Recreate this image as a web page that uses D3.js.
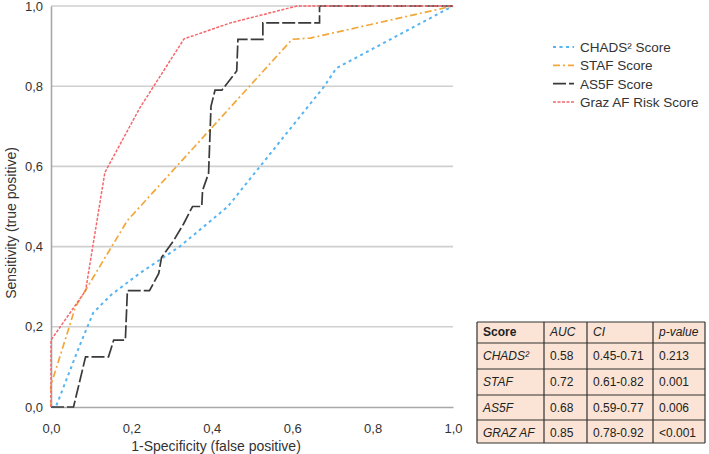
<!DOCTYPE html>
<html>
<head>
<meta charset="utf-8">
<script src="https://cdn.jsdelivr.net/npm/d3@7/dist/d3.min.js"></script>
<style>
  html, body { margin: 0; padding: 0; background: #ffffff; }
  svg { display: block; font-family: "Liberation Sans", Arial, sans-serif; }
</style>
</head>
<body>
<svg id="chart" width="709" height="454"></svg>
<script>
// ---- data ----
const seriesNames = ["CHADS² Score", "STAF Score", "AS5F Score", "Graz AF Risk Score"];
const chadsPoints = [[0,0],[0.012,0],[0.07,0.15],[0.105,0.235],[0.15,0.28],[0.22,0.333],[0.32,0.4],[0.44,0.5],[0.52,0.6],[0.68,0.8],[0.71,0.845],[1,1]];
const stafPoints = [[0,0],[0,0.055],[0.061,0.25],[0.19,0.465],[0.6,0.917],[0.645,0.92],[1,1]];
const as5fPoints = [[0,0],[0.056,0],[0.068,0.05],[0.086,0.125],[0.143,0.125],[0.156,0.167],[0.185,0.167],[0.19,0.29],[0.245,0.29],[0.268,0.333],[0.275,0.373],[0.305,0.415],[0.33,0.457],[0.352,0.5],[0.375,0.5],[0.377,0.54],[0.392,0.583],[0.398,0.75],[0.408,0.79],[0.425,0.79],[0.462,0.838],[0.465,0.917],[0.527,0.917],[0.527,0.958],[0.668,0.958],[0.668,1],[1,1]];
const grazPoints = [[0,0],[0,0.167],[0.086,0.29],[0.134,0.585],[0.221,0.746],[0.331,0.918],[0.447,0.958],[0.612,1],[1,1]];
const tickValues = [0, 0.2, 0.4, 0.6, 0.8, 1.0];
const xTitle = "1-Specificity (false positive)";
const yTitle = "Sensitivity (true positive)";
const tableHeader = ["Score", "AUC", "CI", "p-value"];
const tableScores = ["CHADS²", "STAF", "AS5F", "GRAZ AF"];
const tableAUC = ["0.58", "0.72", "0.68", "0.85"];
const tableCI = ["0.45-0.71", "0.61-0.82", "0.59-0.77", "0.78-0.92"];
const tableP = ["0.213", "0.001", "0.006", "<0.001"];

// ---- styles ----
const styles = [
  { color: "#55b4f2", dash: "3,3.5", width: 2 },
  { color: "#f2a73a", dash: "7,3,2,3", width: 1.7 },
  { color: "#3a3a3a", dash: "13,3", width: 1.7 },
  { color: "#f4676b", dash: "3,1.5", width: 1.5 }
];
const allSeries = [chadsPoints, stafPoints, as5fPoints, grazPoints];

const svg = d3.select("#chart");
const x = d3.scaleLinear().domain([0, 1]).range([51, 453]);
const y = d3.scaleLinear().domain([0, 1]).range([407, 6]);
const fmt = d => d3.format(".1f")(d).replace(".", ",");

// gridlines
svg.append("g").selectAll("line").data(tickValues.filter(d => d > 0)).join("line")
  .attr("x1", x(0)).attr("x2", x(1))
  .attr("y1", d => y(d)).attr("y2", d => y(d))
  .attr("stroke", "#cfcfcf").attr("stroke-width", 1.6);

// axes
const xAxis = svg.append("g").attr("transform", `translate(0,${y(0)})`)
  .call(d3.axisBottom(x).tickValues(tickValues).tickFormat(fmt).tickSize(0).tickPadding(17));
const yAxis = svg.append("g").attr("transform", `translate(${x(0)},0)`)
  .call(d3.axisLeft(y).tickValues(tickValues).tickFormat(fmt).tickSize(0).tickPadding(8));
[xAxis, yAxis].forEach(a => {
  a.select(".domain").attr("stroke", "#a8a8a8").attr("stroke-width", 1.6);
  a.selectAll("text").attr("font-size", 13).attr("fill", "#333").attr("font-family", "Liberation Sans, Arial, sans-serif");
});

// titles
svg.append("text").attr("x", 216).attr("y", 451).attr("text-anchor", "middle")
  .attr("font-size", 14).attr("fill", "#333").text(xTitle);
svg.append("text").attr("transform", "translate(16,223) rotate(-90)").attr("text-anchor", "middle")
  .attr("font-size", 14).attr("fill", "#333").text(yTitle);

// curves
const line = d3.line().x(d => x(d[0])).y(d => y(d[1]));
allSeries.forEach((pts, i) => {
  svg.append("path").datum(pts).attr("d", line).attr("fill", "none")
    .attr("stroke", styles[i].color).attr("stroke-width", styles[i].width)
    .attr("stroke-dasharray", styles[i].dash);
});

// legend
const leg = svg.append("g");
seriesNames.forEach((name, i) => {
  const ly = 47 + i * 18.3;
  leg.append("line").attr("x1", 553).attr("x2", 574).attr("y1", ly).attr("y2", ly)
    .attr("stroke", styles[i].color).attr("stroke-width", styles[i].width)
    .attr("stroke-dasharray", styles[i].dash);
  leg.append("text").attr("x", 580).attr("y", ly + 5).attr("font-size", 13.5)
    .attr("fill", "#333").text(name);
});

// table
const colX = [477, 544, 587, 653, 705];
const rowY = [322, 343, 369, 395, 420, 443];
const tg = svg.append("g");
tg.append("rect").attr("x", colX[0]).attr("y", rowY[0])
  .attr("width", colX[4] - colX[0]).attr("height", rowY[5] - rowY[0])
  .attr("fill", "#fbe4d5");
const rows = [tableHeader].concat(tableScores.map((s, i) => [s, tableAUC[i], tableCI[i], tableP[i]]));
rows.forEach((r, ri) => {
  r.forEach((cell, ci) => {
    const t = tg.append("text").attr("x", colX[ci] + 6).attr("y", rowY[ri] + (ri === 0 ? 14 : 17))
      .attr("font-size", 12).attr("fill", "#222").text(cell);
    if (ri === 0 && ci === 0) t.attr("font-weight", "bold");
    else if (ri === 0 || ci === 0) t.attr("font-style", "italic");
  });
});
colX.forEach(cx => tg.append("line").attr("x1", cx).attr("x2", cx)
  .attr("y1", rowY[0]).attr("y2", rowY[5]).attr("stroke", "#333").attr("stroke-width", 1.2));
rowY.forEach(ry => tg.append("line").attr("x1", colX[0]).attr("x2", colX[4])
  .attr("y1", ry).attr("y2", ry).attr("stroke", "#333").attr("stroke-width", 1.2));
</script>
</body>
</html>
